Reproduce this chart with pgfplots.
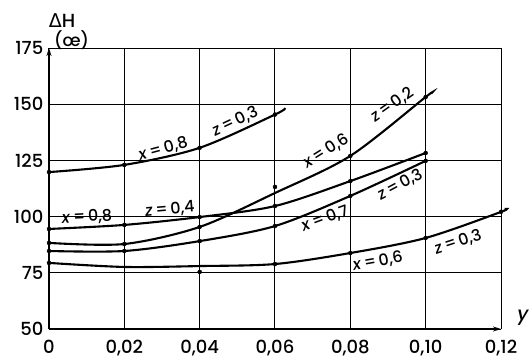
\documentclass[border=0pt]{standalone}
\usepackage{fontspec}
\setmainfont{Poppins}[UprightFont=* Medium, ItalicFont=* Medium Italic]
\newfontfamily\greekfont{DejaVu Sans}
\usepackage{pgfplots}
\pgfplotsset{compat=1.18}
\usetikzlibrary{arrows.meta}
\newcommand{\lbl}[2]{\textit{#1}\,=\,#2}

\begin{document}
\begin{tikzpicture}
\begin{axis}[
  name=ax,
  scale only axis,
  width=452pt, height=281pt,
  xmin=0, xmax=0.12, ymin=50, ymax=175,
  axis lines=left,
  axis line style={line width=1.8pt, -{Stealth[length=8pt,width=5pt]}},
  grid=major,
  major grid style={black, line width=1pt},
  xtick={0,0.02,0.04,0.06,0.08,0.10,0.12},
  xticklabels={0,{0,02},{0,04},{0,06},{0,08},{0,10},{0,12}},
  ytick={50,75,100,125,150,175},
  yticklabels={50,75,100,125,150,175},
  tick style={draw=none},
  ticklabel style={font=\fontsize{18}{18}\selectfont},
  xticklabel style={yshift=-5pt},
  yticklabel style={xshift=0pt},
  clip=false,
  every axis plot/.append style={black},
]
% curves
\addplot[line width=2.1pt, smooth] coordinates {(0,119.8) (0.02,123.0) (0.04,130.6) (0.06,145.4) (0.0627,148.3)};
\addplot[line width=2.1pt, smooth] coordinates {(0,94.5) (0.02,96.3) (0.04,99.8) (0.06,104.7) (0.08,115.8) (0.10,128.3)};
\addplot[line width=2.1pt, smooth] coordinates {(0,88.3) (0.02,87.8) (0.04,95.4) (0.06,110.5) (0.08,127.0) (0.10,153.2) (0.1015,154.8)};
\addplot[line width=2.1pt, smooth] coordinates {(0,84.7) (0.02,84.7) (0.04,89.1) (0.06,95.8) (0.08,109.2) (0.10,124.8)};
\addplot[line width=2.1pt, smooth] coordinates {(0,79.4) (0.02,77.6) (0.04,78.0) (0.06,78.9) (0.08,83.8) (0.10,90.5) (0.12,102.1) (0.121,103.4)};
% measured points
\addplot[only marks, mark=*, mark size=2pt] coordinates {
  (0,119.8) (0.02,123.0) (0.04,130.6) (0.06,145.4)
  (0,94.5) (0.02,96.3) (0.04,99.8) (0.06,104.7) (0.08,115.8) (0.10,128.3)
  (0,88.3) (0.02,87.8) (0.04,95.4) (0.06,113.2) (0.08,127.0) (0.10,153.2)
  (0,84.7) (0.02,84.7) (0.04,89.1) (0.06,95.8) (0.08,109.2) (0.10,124.8)
  (0,79.4) (0.04,75.4) (0.06,78.9) (0.08,83.8) (0.10,90.5) (0.12,102.1)
};
% curve labels
\begin{scope}[every node/.style={font=\fontsize{16}{16}\selectfont, inner sep=0pt}]
\node[rotate=15] at (axis cs:0.0303,130.0) {\lbl{x}{0,8}};
\node[rotate=25] at (axis cs:0.0494,142.3) {\lbl{z}{0,3}};
\node[rotate=3]  at (axis cs:0.0101,99.8)  {\lbl{x}{0,8}};
\node[rotate=5]  at (axis cs:0.0321,103.2) {\lbl{z}{0,4}};
\node[rotate=32] at (axis cs:0.0735,129.0) {\lbl{x}{0,6}};
\node[rotate=35] at (axis cs:0.0911,149.8) {\lbl{z}{0,2}};
\node[rotate=20] at (axis cs:0.0733,99.0)  {\lbl{x}{0,7}};
\node[rotate=28] at (axis cs:0.0932,114.1) {\lbl{z}{0,3}};
\node[rotate=10] at (axis cs:0.0873,80.0)  {\lbl{x}{0,6}};
\node[rotate=18] at (axis cs:0.1086,88.7)  {\lbl{z}{0,3}};
\end{scope}
% axis titles
\node[font=\fontsize{19}{19}\selectfont] at (axis cs:0.0035,187.2) {{\greekfont Δ}H};
\node[font=\fontsize{17}{17}\selectfont] at (axis cs:0.0060,178.6) {(œ)};
\node[font=\fontsize{19}{19}\selectfont\itshape] at (axis cs:0.1258,55) {y};
\end{axis}
\pgfresetboundingbox
\useasboundingbox ([shift={(-49pt,-31pt)}]ax.south west) rectangle ([shift={(30pt,48pt)}]ax.north east);
\end{tikzpicture}
\end{document}
